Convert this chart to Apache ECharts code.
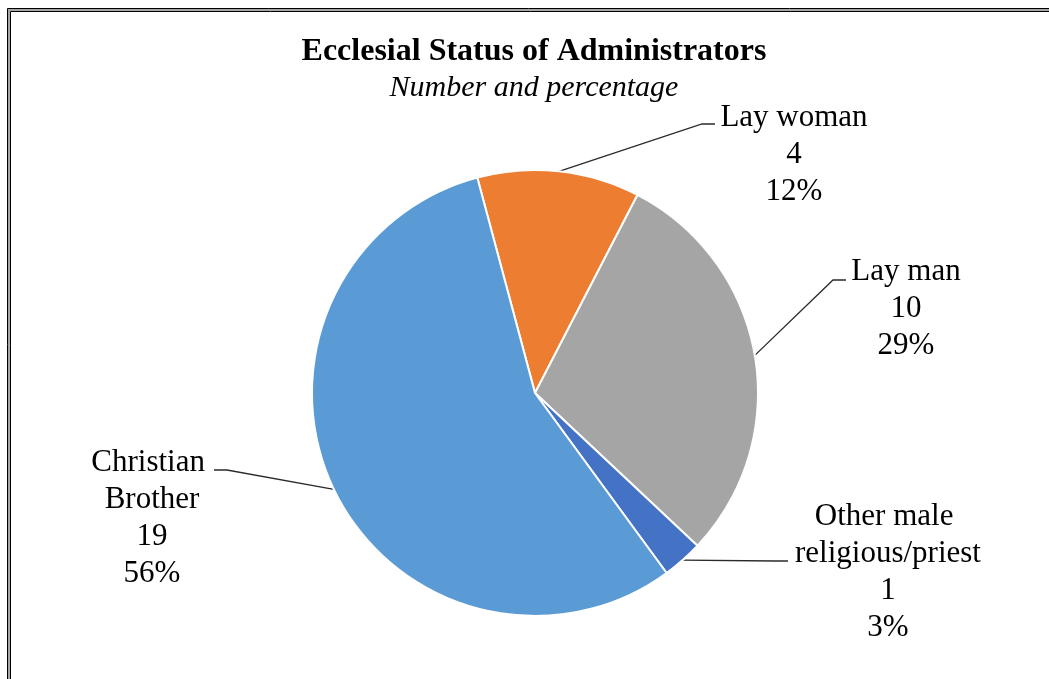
<!DOCTYPE html>
<html><head><meta charset="utf-8">
<script src="https://cdn.jsdelivr.net/npm/echarts@6/dist/echarts.min.js"></script>
<style>html,body{margin:0;padding:0;background:#fff}#chart{width:1049px;height:679px}</style>
</head><body><div id="chart"></div>
<script>
// ---- data ----
const titleText = 'Ecclesial Status of Administrators';
const subtitleText = 'Number and percentage';
const categories = ['Lay woman', 'Lay man', 'Other male religious/priest', 'Christian Brother'];
const counts = [4, 10, 1, 19];

// ---- styling / layout ----
const FONT = "'Liberation Serif', 'Times New Roman', serif";
const sliceColors = ['#ED7D31', '#A5A5A5', '#4472C4', '#5B9BD5'];
const labelWrapWidth = [0, 0, 200, 130];
const labelPlacement = [
  {cx: 794, top: 99,  elbow: [702, 124], end: [715, 124]},
  {cx: 906, top: 253, elbow: [833, 280], end: [846, 280]},
  {cx: 888, top: 498, elbow: [776, 561], end: [788, 561]},
  {cx: 152, top: 444, elbow: [227, 470], end: [214, 470]}
];

const chart = echarts.init(document.getElementById('chart'), null, {renderer: 'canvas'});
chart.setOption({
  animation: false,
  backgroundColor: '#fff',
  title: {
    text: titleText,
    subtext: subtitleText,
    left: 529, top: 31, textAlign: 'center', itemGap: 5,
    textStyle: {fontFamily: FONT, fontSize: 32, fontWeight: 'bold', color: '#000'},
    subtextStyle: {fontFamily: FONT, fontSize: 30, fontStyle: 'italic', color: '#000'}
  },
  graphic: [
    {type: 'rect', silent: true, shape: {x: 7.5, y: 8.5, width: 3000, height: 3000}, style: {fill: 'transparent', stroke: '#000', lineWidth: 1}},
    {type: 'rect', silent: true, shape: {x: 9, y: 10, width: 3000, height: 3000}, style: {fill: 'transparent', stroke: '#a6a6a6', lineWidth: 2}},
    {type: 'rect', silent: true, shape: {x: 10.5, y: 11.5, width: 3000, height: 3000}, style: {fill: 'transparent', stroke: '#000', lineWidth: 1}}
  ],
  series: [{
    type: 'pie',
    center: [535, 393],
    radius: 223,
    startAngle: 105,
    clockwise: true,
    percentPrecision: 0,
    avoidLabelOverlap: false,
    silent: true,
    itemStyle: {borderColor: '#fff', borderWidth: 2},
    label: {
      show: true, position: 'outside',
      formatter: '{b}\n{c}\n{d}%',
      fontFamily: FONT, fontSize: 31, lineHeight: 37, color: '#000',
      overflow: 'break'
    },
    labelLine: {show: true, length: 20, length2: 15, smooth: false, lineStyle: {color: '#2a2a2a', width: 1.3}},
    labelLayout: function (p) {
      const lp = labelPlacement[p.dataIndex];
      const res = {x: lp.cx, y: lp.top, align: 'center', verticalAlign: 'top'};
      if (p.labelLinePoints && p.labelLinePoints.length) {
        res.labelLinePoints = [p.labelLinePoints[0], lp.elbow, lp.end];
      }
      return res;
    },
    data: categories.map((name, i) => {
      const item = {name: name, value: counts[i], itemStyle: {color: sliceColors[i]}};
      if (labelWrapWidth[i]) item.label = {width: labelWrapWidth[i]};
      return item;
    })
  }]
});
</script>
</body></html>
